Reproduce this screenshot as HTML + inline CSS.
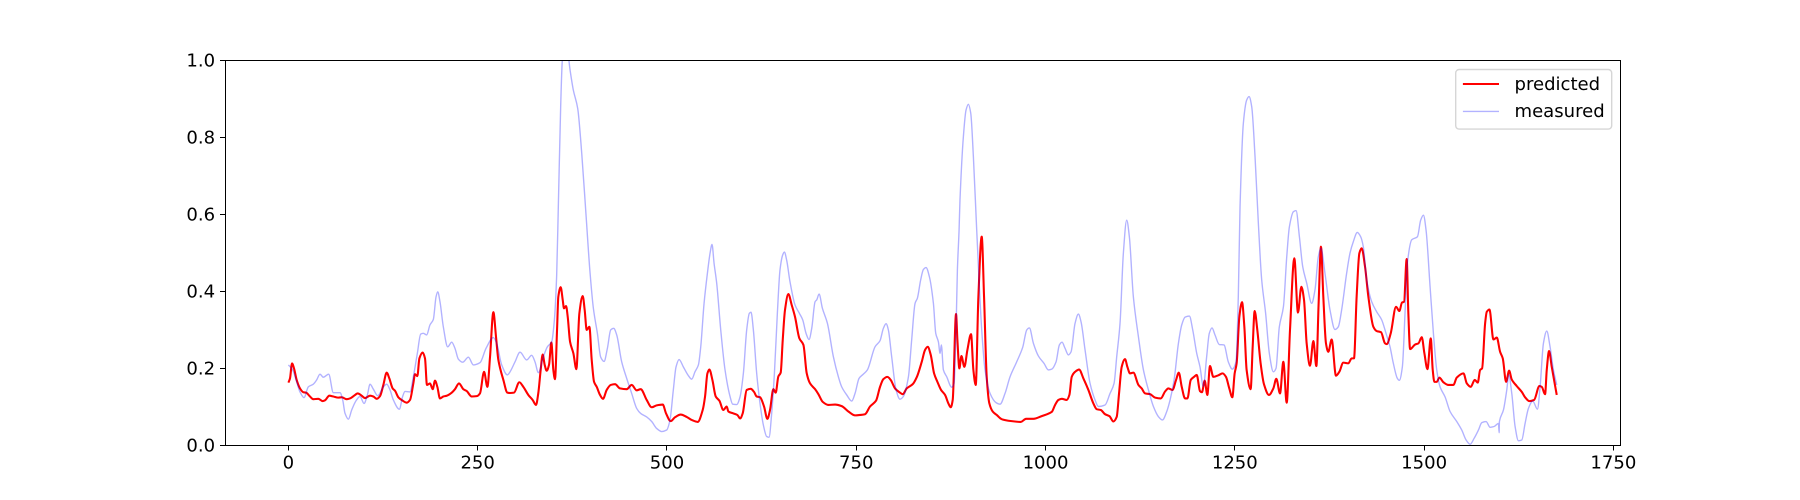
<!DOCTYPE html>
<html lang="en">
<head>
<meta charset="utf-8">
<title>Predicted vs measured</title>
<style>
html,body{margin:0;padding:0;background:#fff;}
svg{display:block;}
text{font-family:"DejaVu Sans","Liberation Sans",sans-serif;font-size:18.06px;fill:#000;}
</style>
</head>
<body>
<svg id="chart" width="1800" height="500" viewBox="0 0 1800 500" xmlns="http://www.w3.org/2000/svg">
  <defs><clipPath id="plot-clip"><rect x="225" y="60" width="1395" height="385"/></clipPath></defs>
  <rect x="225" y="60" width="1395" height="385" fill="#fff"/>
  <g id="series" clip-path="url(#plot-clip)"></g>
  <g id="ticks"></g>
  <rect x="225.5" y="60.5" width="1395" height="385" fill="none" stroke="#000" stroke-width="1" shape-rendering="crispEdges"/>
  <g>
    <rect x="1455.7" y="69.5" width="156" height="59.6" rx="3.5" fill="#fff" fill-opacity="0.8" stroke="#ccc" stroke-opacity="0.8" stroke-width="1.39"/>
    <line x1="1462.9" y1="84" x2="1499" y2="84" stroke="#f00" stroke-width="2.08"/>
    <text x="1514.5" y="90.2">predicted</text>
    <line x1="1462.9" y1="111.4" x2="1499" y2="111.4" stroke="#00f" stroke-opacity="0.3" stroke-width="1.39"/>
    <text x="1514.5" y="117.2">measured</text>
  </g>
</svg>
<script>
const xTickValues = [0, 250, 500, 750, 1000, 1250, 1500, 1750];
const yTickValues = [0.0, 0.2, 0.4, 0.6, 0.8, 1.0];

const predictedX = [0,2.1,4.75,7.4,10.9,15.3,19.7,23.2,28.5,32.9,39.5,45.3,48.3,54,59.3,65.9,70.4,77,81.4,88,91.5,96.8,101.2,107.8,112.2,116.6,121,125.4,129.8,133.3,137.7,140.8,145.2,149.6,156.2,160.6,165,167.2,170.3,173,177.3,180.4,183,187,190.6,193.6,196.7,200.2,204.6,209,215.7,220,225.3,231,235.5,242,248.7,253,258.4,262.8,266.3,270.7,274.2,277.3,283.9,289.2,292.7,298,305,310.3,316.9,322.6,327,330,333.2,335.8,338.5,341.1,344.2,347.3,349.9,352.1,354.8,356.5,359.6,362.3,364,366.7,368.9,372,376.4,380.3,384.3,388.7,391.3,394,397.5,400.6,403.7,407.2,411.6,415.5,420.4,425.7,431.4,438,446.8,453.4,460,465.3,473.2,479.8,486.4,494.4,498.8,504.9,510.6,518.1,526,532.7,540.6,547.2,550.3,553.4,556,560,564.4,569.2,574.5,578.9,581.1,587.7,593,596.5,600,605.3,610.6,615,618.5,622.9,628.2,632.6,636.1,640.5,643.6,647.1,650.2,652.9,655.9,660.3,664.7,669.1,674.9,680.2,684.6,689,695.6,700,705.7,713.2,722,730.8,739.6,748.4,755,761.6,768.2,776.1,781.4,785.8,791.1,795.5,801.2,807,811.4,816.7,824.6,829.9,836.5,840.9,844.4,848.4,852.8,857.2,862,867.3,871.7,874.8,877.4,881.8,883.6,886.2,888.9,892.8,896.8,901.6,904.7,907.8,911.3,915.7,918.8,922.3,925.8,930.2,935.5,942.1,951,959.7,967.2,974.3,984,995,1008.2,1012.6,1017,1021.4,1028,1031.5,1034.6,1039,1044.3,1050,1056.6,1063.2,1067.6,1072.9,1078.6,1084.4,1089.6,1094,1097.1,1100.6,1105,1108.1,1111.6,1116,1122.7,1127,1131.5,1138,1144.7,1152.2,1157.9,1162.3,1167.6,1172.4,1176,1179.9,1184.3,1187.4,1191.8,1196.2,1199.7,1204,1206.6,1210.2,1213.7,1217.2,1221.6,1228.2,1233.9,1238.3,1242.7,1246.7,1249.8,1252.4,1256,1259.5,1262.6,1265.6,1270.9,1273.6,1276.2,1279.7,1284.1,1288.5,1295.1,1300.9,1304.8,1309.7,1314.1,1318.5,1322.9,1328.6,1333.4,1337.9,1341.4,1344.9,1349.3,1353.7,1357.7,1360.7,1363.8,1366.9,1370.4,1373.5,1377.9,1383.6,1388,1393.3,1399.9,1404.3,1407.4,1410.9,1414.5,1417.5,1422,1426.4,1433,1437.4,1443.1,1448.4,1450.6,1455.9,1462.9,1467.3,1470.8,1473.5,1477,1479.2,1481.5,1488.1,1492.5,1496.9,1500.4,1504.4,1508.8,1511.4,1513.6,1516.7,1520.2,1525.5,1532.1,1538.7,1543.1,1552,1556.4,1561.6,1566.9,1570.9,1574,1576.6,1580.6,1582.8,1586.3,1591.6,1596,1600.4,1603.9,1608.3,1612.3,1615.8,1622.4,1629,1633.4,1639.1,1645.3,1652.3,1655.4,1659.8,1662,1665.1,1668.6,1675.2];
const predictedY = [.162,.173,.212,.199,.169,.147,.137,.136,.126,.119,.120,.114,.116,.128,.126,.123,.124,.119,.121,.130,.134,.128,.122,.128,.126,.120,.127,.156,.188,.173,.147,.141,.124,.117,.110,.117,.160,.184,.179,.225,.240,.225,.156,.160,.145,.167,.151,.121,.126,.128,.136,.145,.160,.145,.140,.126,.127,.134,.190,.151,.229,.345,.281,.221,.169,.136,.135,.136,.163,.151,.130,.117,.104,.134,.195,.235,.208,.193,.208,.266,.195,.171,.299,.385,.410,.377,.355,.361,.333,.268,.238,.197,.342,.387,.351,.299,.307,.221,.164,.151,.130,.120,.143,.156,.158,.147,.145,.156,.142,.145,.117,.098,.103,.105,.082,.062,.072,.079,.073,.065,.060,.091,.126,.186,.196,.169,.126,.115,.091,.100,.087,.082,.078,.069,.082,.143,.146,.138,.126,.124,.100,.068,.091,.145,.136,.178,.188,.273,.351,.392,.364,.333,.277,.260,.186,.160,.145,.132,.112,.104,.105,.101,.087,.077,.078,.080,.100,.115,.151,.171,.177,.169,.147,.137,.132,.147,.158,.176,.216,.247,.255,.234,.186,.164,.143,.130,.108,.098,.117,.340,.273,.199,.231,.203,.247,.288,.195,.156,.385,.541,.385,.177,.108,.087,.078,.067,.063,.061,.060,.068,.068,.075,.086,.104,.117,.120,.117,.130,.177,.190,.196,.173,.143,.108,.093,.091,.080,.075,.061,.073,.134,.203,.223,.203,.186,.188,.156,.147,.134,.132,.123,.121,.139,.147,.143,.169,.188,.151,.121,.121,.169,.177,.182,.140,.137,.167,.130,.205,.177,.181,.186,.177,.147,.124,.186,.212,.333,.371,.307,.195,.145,.255,.348,.299,.212,.158,.130,.147,.172,.134,.216,.110,.299,.485,.344,.411,.377,.264,.206,.270,.205,.368,.515,.385,.264,.242,.274,.180,.190,.214,.212,.225,.225,.385,.498,.511,.463,.385,.307,.296,.293,.264,.262,.290,.359,.348,.370,.372,.483,.342,.249,.261,.264,.280,.238,.197,.277,.195,.164,.164,.175,.163,.156,.156,.175,.186,.160,.151,.169,.162,.195,.199,.316,.346,.352,.274,.279,.242,.225,.164,.193,.170,.153,.138,.124,.114,.117,.153,.151,.132,.195,.244,.203,.130];

const measuredX = [0,5.6,10.9,15.3,20.6,26.3,32.9,37.3,41.7,46.1,53.2,59.3,68.2,71.7,74.8,79.2,83.6,89.3,94.6,99.9,104.3,107.8,112.2,117.9,125.4,129.8,134.2,138.6,146.5,150.9,154,160.6,165,170.3,174.7,178.2,182.6,187,191.4,195,197.2,200.2,204.6,210.4,215.7,220,224.5,230.2,237.7,244.3,253.1,261,270.7,275.1,281.7,289.2,292.7,299.3,305.9,314.7,321.3,325.7,330.1,336.7,342,347.7,351.3,354.3,356.5,359.6,361.8,364,368,372,376.3,382.1,387.4,393,398.3,402.8,408.1,412.5,416.9,421.3,425.7,429.6,433.6,440.2,446.8,453.4,460,465.3,473.2,479.8,486.4,493,499.6,504,508.4,512,516,521.6,528.3,532.7,537,541.5,544.6,549,553.4,556.9,559.5,562.2,565.7,571,576.7,583.3,586.8,592.1,596.5,600.9,605.3,608.8,611,614.1,618.5,622.9,627.3,631.7,634.8,638.3,641.9,645.8,649.3,652.9,655.1,658.1,662.5,669.1,674.9,679.3,683.7,687.6,691.2,695.6,697.8,700.9,705.3,711.9,719.8,726.4,730.8,737.4,744,748.4,753.7,759.4,764.7,774.8,781.4,785.8,789.4,792.4,796.8,802.6,807.8,812.2,818.9,823.2,827.7,830.7,835.1,838.7,842.2,846.6,851.9,855,858.5,860.7,862.4,865.1,869.5,876.1,879.2,881.8,883.6,885.8,887,891.5,895,898.1,901.2,904.7,909.1,915.7,920.1,926.7,934.6,939.9,946.5,953.1,961.9,969.9,975.2,978.7,984,990.6,998,1003.8,1008.2,1013.9,1018.3,1021.8,1025.8,1030.2,1033.7,1039,1043.4,1046.9,1052.2,1058.8,1065.4,1069.8,1078.6,1085.2,1090.5,1094,1098.4,1102.8,1107.2,1110.7,1116,1122.7,1129.3,1135.9,1142.5,1149,1154.4,1160.1,1164.5,1169.8,1175.5,1179.9,1184.3,1190,1194.4,1199.7,1204,1208.4,1212.8,1216.3,1219.9,1223.8,1229.5,1235.7,1241.4,1246.7,1251.6,1254.6,1256.9,1261.3,1265.7,1268.8,1272.3,1276.7,1281.1,1285.5,1290.7,1295.6,1300.9,1304.4,1308.8,1314.2,1318.6,1322.1,1327.4,1330.9,1335.3,1339.7,1345,1351.5,1355.9,1360.3,1363.8,1369.1,1375.7,1382.3,1386.7,1391.1,1397.7,1402.1,1406.5,1411.8,1416.2,1419.7,1424.2,1430.8,1437.4,1444,1449.7,1455,1459.4,1464.7,1467.3,1471.3,1474.8,1477.9,1483.7,1491.2,1495.5,1499.1,1502.6,1507.9,1512.3,1516.7,1521.1,1527.7,1534.3,1543.1,1549.7,1555.5,1560.8,1566,1571.8,1576.2,1581.9,1587.2,1592.5,1598.2,1599.1,1599.5,1604.8,1609.2,1611.8,1615.8,1620.2,1624.6,1629,1633.4,1637.8,1643.5,1649.7,1653.2,1657.6,1662,1666.4,1670.8,1675.2];
const measuredY = [.208,.195,.164,.138,.123,.151,.158,.169,.184,.176,.184,.136,.136,.117,.082,.067,.091,.115,.126,.108,.130,.158,.145,.128,.151,.158,.143,.117,.093,.126,.139,.138,.177,.238,.288,.290,.286,.312,.326,.385,.398,.372,.307,.255,.267,.251,.223,.215,.228,.208,.214,.251,.279,.264,.208,.182,.190,.216,.241,.221,.233,.216,.188,.229,.255,.268,.325,.44,.619,.879,1.0,1.03,1.03,.974,.922,.874,.758,.60,.450,.355,.290,.228,.217,.251,.299,.303,.286,.216,.173,.134,.095,.082,.073,.061,.043,.035,.039,.065,.143,.203,.222,.203,.180,.171,.190,.208,.255,.368,.446,.498,.521,.472,.420,.299,.195,.126,.106,.105,.125,.186,.299,.342,.345,.299,.186,.108,.052,.022,.020,.082,.186,.342,.455,.494,.501,.480,.424,.364,.342,.325,.290,.274,.303,.372,.377,.392,.355,.316,.229,.177,.151,.130,.114,.134,.173,.184,.195,.255,.271,.303,.315,.299,.229,.143,.119,.126,.177,.273,.368,.381,.429,.456,.461,.437,.368,.290,.268,.238,.260,.195,.177,.150,.160,.299,.455,.558,.636,.801,.870,.885,.862,.749,.558,.299,.195,.134,.110,.106,.134,.177,.216,.254,.299,.304,.264,.231,.212,.195,.197,.216,.260,.267,.251,.234,.242,.316,.340,.320,.247,.160,.117,.100,.104,.134,.160,.229,.316,.498,.584,.541,.385,.281,.195,.143,.100,.074,.065,.087,.117,.169,.264,.312,.332,.335,.299,.238,.203,.152,.229,.290,.304,.286,.261,.260,.216,.197,.216,.385,.619,.836,.896,.905,.879,.749,.576,.429,.342,.238,.190,.199,.307,.359,.489,.567,.606,.609,.541,.463,.420,.368,.403,.489,.511,.446,.351,.300,.307,.351,.446,.498,.528,.552,.541,.515,.429,.372,.346,.325,.290,.255,.212,.173,.168,.203,.342,.472,.533,.541,.584,.597,.558,.411,.290,.195,.151,.125,.087,.061,.039,.013,.002,.017,.039,.058,.061,.046,.048,.056,.032,.061,.091,.143,.182,.134,.048,.011,.013,.056,.095,.114,.093,.151,.264,.296,.255,.195,.156];

const NS = 'http://www.w3.org/2000/svg';
const plotLeft = 225, plotRight = 1620, plotTop = 60, plotBottom = 445;
const xMin = -83.75, xMax = 1758.75, yMin = 0, yMax = 1;

function xScale(v) { return plotLeft + (v - xMin) / (xMax - xMin) * (plotRight - plotLeft); }
function yScale(v) { return plotBottom - (v - yMin) / (yMax - yMin) * (plotBottom - plotTop); }

// Monotone cubic path through the scaled points, so peaks stay rounded without overshoot.
function linePath(xs, ys) {
  const px = xs.map(xScale);
  const py = ys.map(yScale);
  const n = px.length;
  const secant = [];
  for (let i = 0; i < n - 1; i++) {
    secant.push((py[i + 1] - py[i]) / Math.max(px[i + 1] - px[i], 0.01));
  }
  const slope = [];
  for (let i = 0; i < n; i++) {
    if (i === 0) { slope.push(secant[0]); continue; }
    if (i === n - 1) { slope.push(secant[n - 2]); continue; }
    const a = secant[i - 1], b = secant[i];
    slope.push(a * b <= 0 ? 0 : 2 * a * b / (a + b));
  }
  let d = 'M' + px[0].toFixed(2) + ' ' + py[0].toFixed(2);
  for (let i = 0; i < n - 1; i++) {
    const h = (px[i + 1] - px[i]) / 3;
    d += 'C' + (px[i] + h).toFixed(2) + ' ' + (py[i] + slope[i] * h).toFixed(2) + ' ' +
      (px[i + 1] - h).toFixed(2) + ' ' + (py[i + 1] - slope[i + 1] * h).toFixed(2) + ' ' +
      px[i + 1].toFixed(2) + ' ' + py[i + 1].toFixed(2);
  }
  return d;
}

const seriesGroup = document.getElementById('series');
const tickGroup = document.getElementById('ticks');

const predictedLine = document.createElementNS(NS, 'path');


predictedLine.setAttribute('d', linePath(predictedX, predictedY));
predictedLine.setAttribute('fill', 'none');
predictedLine.setAttribute('stroke', '#f00');
predictedLine.setAttribute('stroke-width', '2.08');
predictedLine.setAttribute('stroke-linejoin', 'round');
seriesGroup.appendChild(predictedLine);

const measuredLine = document.createElementNS(NS, 'path');


measuredLine.setAttribute('d', linePath(measuredX, measuredY));
measuredLine.setAttribute('fill', 'none');
measuredLine.setAttribute('stroke', '#00f');
measuredLine.setAttribute('stroke-opacity', '0.3');
measuredLine.setAttribute('stroke-width', '1.39');
measuredLine.setAttribute('stroke-linejoin', 'round');
seriesGroup.appendChild(measuredLine);

xTickValues.forEach(function (value) {
  const px = xScale(value);
  const snapped = Math.floor(px) + 0.5;
  const mark = document.createElementNS(NS, 'line');
  
  
  mark.setAttribute('x1', snapped);
  mark.setAttribute('x2', snapped);
  mark.setAttribute('y1', plotBottom);
  mark.setAttribute('y2', plotBottom + 5.5);
  mark.setAttribute('stroke', '#000');
  mark.setAttribute('stroke-width', '1');
  mark.setAttribute('shape-rendering', 'crispEdges');
  tickGroup.appendChild(mark);
  const label = document.createElementNS(NS, 'text');
  
  
  label.setAttribute('x', px);
  label.setAttribute('y', 468.6);
  label.setAttribute('text-anchor', 'middle');
  label.textContent = String(value);
  tickGroup.appendChild(label);
});

yTickValues.forEach(function (value) {
  const py = yScale(value);
  const snapped = Math.floor(py) + 0.5;
  const mark = document.createElementNS(NS, 'line');
  
  
  mark.setAttribute('x1', plotLeft - 4.86);
  mark.setAttribute('x2', plotLeft);
  mark.setAttribute('y1', snapped);
  mark.setAttribute('y2', snapped);
  mark.setAttribute('stroke', '#000');
  mark.setAttribute('stroke-width', '1');
  mark.setAttribute('shape-rendering', 'crispEdges');
  tickGroup.appendChild(mark);
  const label = document.createElementNS(NS, 'text');
  
  
  label.setAttribute('x', plotLeft - 9.9);
  label.setAttribute('y', py + 6.6);
  label.setAttribute('text-anchor', 'end');
  label.textContent = value.toFixed(1);
  tickGroup.appendChild(label);
});
</script>
</body>
</html>
